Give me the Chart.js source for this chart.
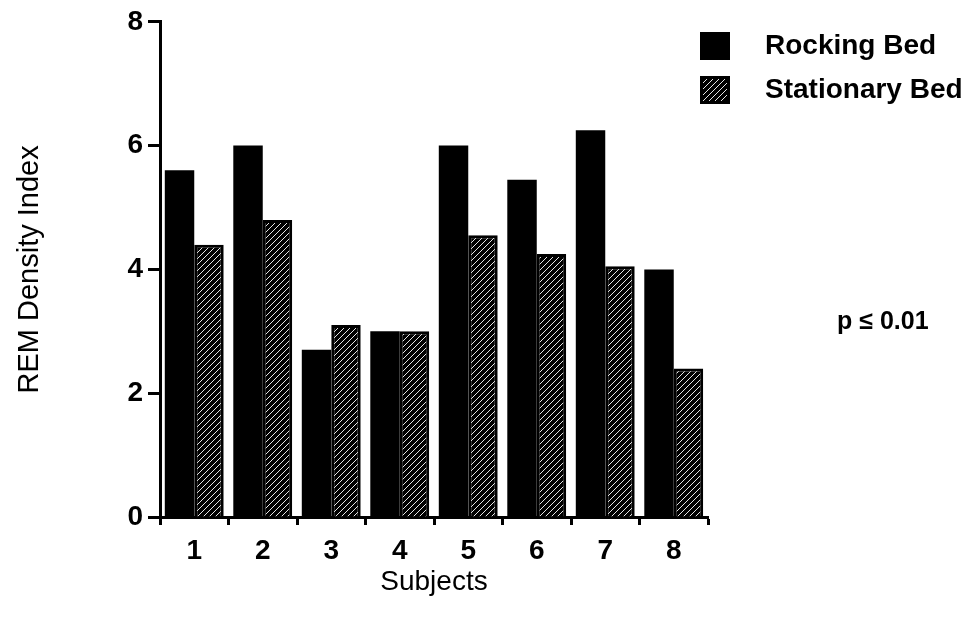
<!DOCTYPE html>
<html lang="en">
<head>
    <meta charset="UTF-8">
    <title>REM Density Index</title>
    <script src="https://cdn.jsdelivr.net/npm/chart.js"></script>
    <style>
        body { margin: 0; background: #fff; overflow: hidden; }
        canvas { display: block; }
    </style>
</head>
<body>
    <canvas id="remChart" width="966" height="630"></canvas>
    <script>
        // data
        const subjects = ['1', '2', '3', '4', '5', '6', '7', '8'];
        const rockingBed = [5.6, 6.0, 2.7, 3.0, 6.0, 5.45, 6.25, 4.0];
        const stationaryBed = [4.4, 4.8, 3.1, 3.0, 4.55, 4.25, 4.05, 2.4];
        const yTicks = [0, 2, 4, 6, 8];
        const pText = 'p \u2264 0.01';

        const FONT = '"Liberation Sans", Arial, Helvetica, sans-serif';
        Chart.defaults.color = '#000';
        Chart.defaults.font.family = FONT;

        // black with thin white diagonal hatch
        function makeHatch() {
            const c = document.createElement('canvas');
            c.width = 6; c.height = 6;
            const g = c.getContext('2d');
            g.fillStyle = '#000';
            g.fillRect(0, 0, 6, 6);
            g.strokeStyle = '#fff';
            g.lineWidth = 0.9;
            g.beginPath();
            g.moveTo(0, 6); g.lineTo(6, 0);
            g.moveTo(-1, 1); g.lineTo(1, -1);
            g.moveTo(5, 7); g.lineTo(7, 5);
            g.stroke();
            return g.createPattern(c, 'repeat');
        }
        const ctx = document.getElementById('remChart').getContext('2d');
        const hatch = makeHatch();

        // legend + p value drawn by hand so the plot area keeps its size
        const extras = {
            id: 'extras',
            afterDraw(chart) {
                const c = chart.ctx;
                c.save();
                c.font = 'bold 28px ' + FONT;
                c.textBaseline = 'middle';
                const rows = [46, 90];
                chart.data.datasets.forEach((ds, i) => {
                    c.fillStyle = '#000';
                    c.fillRect(700, rows[i] - 14, 30, 28);
                    c.fillStyle = ds.backgroundColor;
                    c.fillRect(703, rows[i] - 11, 24, 22);
                    c.fillStyle = '#000';
                    c.fillText(ds.label, 765, rows[i]);
                });
                c.font = 'bold 25px ' + FONT;
                c.fillText(pText, 837, 322);
                c.restore();
            }
        };

        new Chart(ctx, {
            type: 'bar',
            data: {
                labels: subjects,
                datasets: [{
                    label: 'Rocking Bed',
                    data: rockingBed,
                    backgroundColor: '#000',
                    borderColor: '#000',
                    borderWidth: 0
                }, {
                    label: 'Stationary Bed',
                    data: stationaryBed,
                    backgroundColor: hatch,
                    borderColor: '#000',
                    borderWidth: 3,
                    borderSkipped: 'bottom'
                }]
            },
            options: {
                responsive: false,
                animation: false,
                layout: { padding: { top: 20, right: 258, bottom: 0, left: 0 } },
                datasets: { bar: { categoryPercentage: 0.86, barPercentage: 1.0 } },
                plugins: { legend: { display: false }, tooltip: { enabled: false } },
                scales: {
                    x: {
                        afterFit(scale) { scale.height = 113; },
                        border: { color: '#000', width: 3 },
                        grid: { drawOnChartArea: false, drawTicks: true, tickLength: 8, tickWidth: 3, tickColor: '#000' },
                        ticks: { font: { size: 28, weight: 'bold' }, padding: 9 },
                        title: { display: true, text: 'Subjects', font: { size: 28 }, padding: { top: 0, bottom: 31 } }
                    },
                    y: {
                        min: 0,
                        max: 8,
                        afterFit(scale) { scale.width = 160; },
                        afterBuildTicks(scale) { scale.ticks = yTicks.map(v => ({ value: v })); },
                        border: { color: '#000', width: 3 },
                        grid: { drawOnChartArea: false, drawTicks: true, tickLength: 12, tickWidth: 3, tickColor: '#000' },
                        ticks: { font: { size: 28, weight: 'bold' }, padding: 5 },
                        title: { display: true, text: 'REM Density Index', font: { size: 29 }, padding: { top: 13, bottom: 0 } }
                    }
                }
            },
            plugins: [extras]
        });
    </script>
</body>
</html>
